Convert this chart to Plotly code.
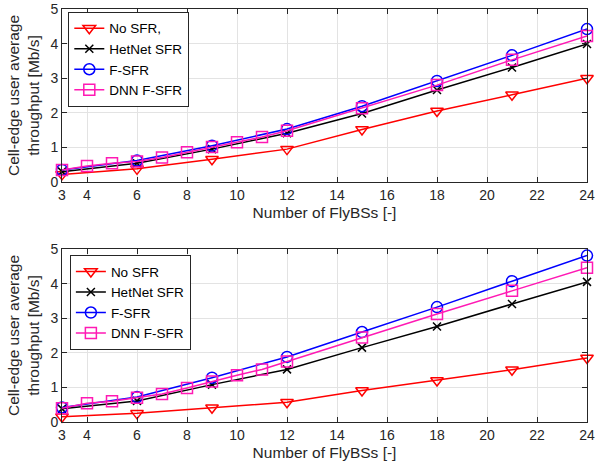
import plotly.graph_objects as go
from plotly.subplots import make_subplots

x_main = [3, 6, 9, 12, 15, 18, 21, 24]
x_dnn = [3, 4, 5, 6, 7, 8, 9, 10, 11, 12, 15, 18, 21, 24]

# Top panel
top_nosfr = [0.22, 0.38, 0.66, 0.95, 1.52, 2.05, 2.52, 3.0]
top_hetnet = [0.30, 0.54, 0.95, 1.41, 1.98, 2.66, 3.31, 3.99]
top_fsfr = [0.35, 0.62, 1.05, 1.53, 2.19, 2.92, 3.66, 4.42]
top_dnn = [0.35, 0.46, 0.54, 0.59, 0.71, 0.86, 1.01, 1.15, 1.30, 1.48, 2.13, 2.80, 3.53, 4.22]

# Bottom panel
bot_nosfr = [0.15, 0.25, 0.41, 0.57, 0.91, 1.20, 1.51, 1.85]
bot_hetnet = [0.38, 0.61, 1.08, 1.52, 2.15, 2.76, 3.41, 4.05]
bot_fsfr = [0.42, 0.72, 1.28, 1.88, 2.60, 3.32, 4.07, 4.81]
bot_dnn = [0.40, 0.54, 0.60, 0.70, 0.81, 0.98, 1.17, 1.35, 1.52, 1.75, 2.44, 3.12, 3.79, 4.46]

names_top = ["No SFR,", "HetNet SFR", "F-SFR", "DNN F-SFR"]
names_bot = ["No SFR", "HetNet SFR", "F-SFR", "DNN F-SFR"]

RED = "#FF0000"
BLACK = "#000000"
BLUE = "#0000FF"
MAG = "#FF19B4"
FONT = "Liberation Sans, Arial"

fig = make_subplots(rows=2, cols=1)

def add_panel(row, data, names, legend):
    specs = [
        (x_main, data[0], RED, "triangle-down-open", 11),
        (x_main, data[1], BLACK, "x-thin-open", 8),
        (x_main, data[2], BLUE, "circle-open", 11),
        (x_dnn, data[3], MAG, "square-open", 11),
    ]
    for (xs, ys, c, sym, sz), nm in zip(specs, names):
        fig.add_trace(go.Scatter(
            x=xs, y=ys, name=nm, mode="lines+markers",
            line=dict(color=c, width=1.5),
            marker=dict(symbol=sym, size=sz, color=c, line=dict(color=c, width=1.5)),
            legend=legend, cliponaxis=False,
        ), row=row, col=1)

add_panel(1, [top_nosfr, top_hetnet, top_fsfr, top_dnn], names_top, "legend")
add_panel(2, [bot_nosfr, bot_hetnet, bot_fsfr, bot_dnn], names_bot, "legend2")

tickvals = [3, 4, 6, 8, 10, 12, 14, 16, 18, 20, 22, 24]
axis_common = dict(
    showline=True, linecolor="#262626", linewidth=1, mirror="allticks",
    ticks="inside", ticklen=5, tickcolor="#262626",
    showgrid=True, gridcolor="#E3E3E3", gridwidth=1, zeroline=False,
    automargin=False,
    tickfont=dict(family=FONT, size=14, color="#262626"),
)
for ax in ["xaxis", "xaxis2"]:
    fig.layout[ax].update(range=[3, 24], tickvals=tickvals, **axis_common,
        title=dict(text="Number of FlyBSs [-]", standoff=5,
                   font=dict(family=FONT, size=15.5, color="#262626")))
for ax in ["yaxis", "yaxis2"]:
    fig.layout[ax].update(range=[0, 5], tickvals=[0, 1, 2, 3, 4, 5], **axis_common,
        title=dict(text="Cell-edge user average<br>throughput [Mb/s]", standoff=6,
                   font=dict(family=FONT, size=15.5, color="#262626")))

fig.layout.xaxis.domain = [0, 1]
fig.layout.xaxis2.domain = [0, 1]
fig.layout.yaxis.domain = [0.5811, 1.0]
fig.layout.yaxis2.domain = [0.0, 0.4189]

legend_common = dict(
    bgcolor="white", bordercolor="#262626", borderwidth=1,
    font=dict(family=FONT, size=13.5, color="#000000"),
    xanchor="left", yanchor="top", tracegroupgap=0,
)
fig.update_layout(
    width=595, height=468,
    margin=dict(l=62, r=8, t=9, b=46, autoexpand=False),
    paper_bgcolor="white", plot_bgcolor="white",
    showlegend=True,
    legend=dict(x=0.012, y=0.993, **legend_common),
    legend2=dict(x=0.015, y=0.404, **legend_common),
)

fig.write_html("out.html")
